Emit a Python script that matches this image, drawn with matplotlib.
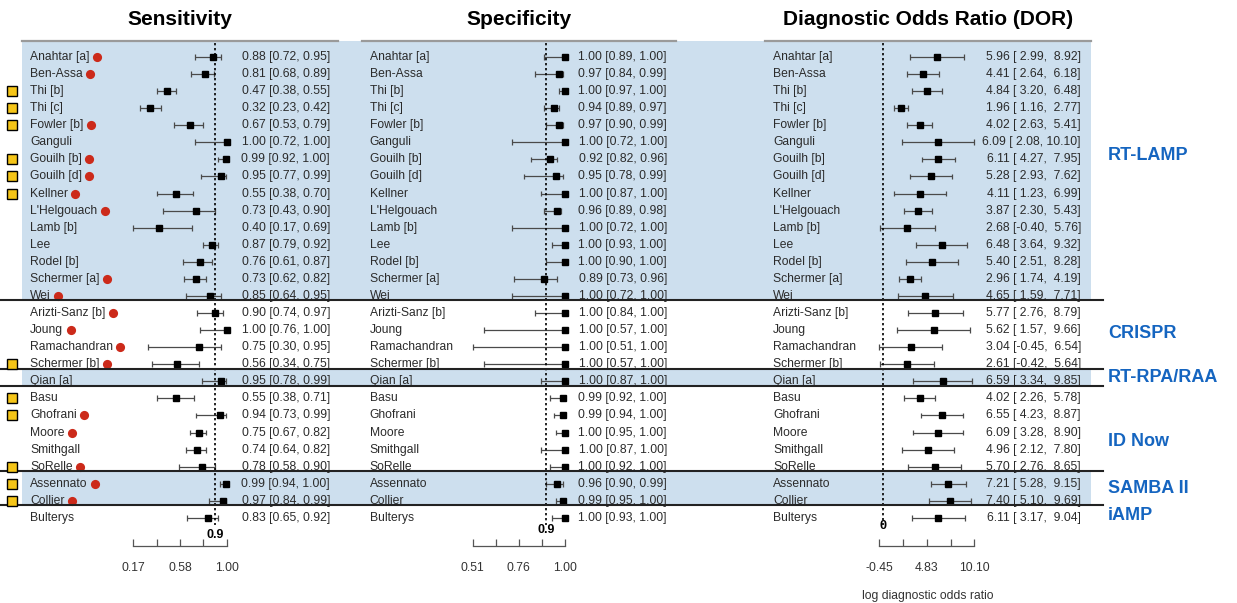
import numpy as np
import matplotlib
matplotlib.use('Agg')
import matplotlib.pyplot as plt
import matplotlib.transforms as mtransforms

plt.rcParams['font.family'] = ['Liberation Sans', 'DejaVu Sans']

# studies, top to bottom
studies = ["Anahtar [a]", "Ben-Assa", "Thi [b]", "Thi [c]", "Fowler [b]", "Ganguli",
           "Gouilh [b]", "Gouilh [d]", "Kellner", "L'Helgouach", "Lamb [b]", "Lee",
           "Rodel [b]", "Schermer [a]", "Wei",
           "Arizti-Sanz [b]", "Joung", "Ramachandran", "Schermer [b]",
           "Qian [a]",
           "Basu", "Ghofrani", "Moore", "Smithgall", "SoRelle",
           "Assennato", "Collier",
           "Bulterys"]

groups = ["RT-LAMP", "CRISPR", "RT-RPA/RAA", "ID Now", "SAMBA II", "iAMP"]
group_sizes = [15, 4, 1, 5, 2, 1]
group_label_rows = [5.75, 16.2, 18.8, 22.5, 25.25, 26.85]
shaded = [True, False, True, False, True, False]

yellow_flag = [0, 0, 1, 1, 1, 0, 1, 1, 1, 0, 0, 0, 0, 0, 0,
               0, 0, 0, 1,
               0,
               1, 1, 0, 0, 1,
               1, 1,
               0]
red_flag = [1, 1, 0, 0, 1, 0, 1, 1, 1, 1, 0, 0, 0, 1, 1,
            1, 1, 1, 1,
            0,
            0, 1, 1, 0, 1,
            1, 1,
            0]

sens = [0.88, 0.81, 0.47, 0.32, 0.67, 1.00, 0.99, 0.95, 0.55, 0.73, 0.40, 0.87, 0.76, 0.73, 0.85,
        0.90, 1.00, 0.75, 0.56, 0.95, 0.55, 0.94, 0.75, 0.74, 0.78, 0.99, 0.97, 0.83]
sens_lo = [0.72, 0.68, 0.38, 0.23, 0.53, 0.72, 0.92, 0.77, 0.38, 0.43, 0.17, 0.79, 0.61, 0.62, 0.64,
           0.74, 0.76, 0.30, 0.34, 0.78, 0.38, 0.73, 0.67, 0.64, 0.58, 0.94, 0.84, 0.65]
sens_hi = [0.95, 0.89, 0.55, 0.42, 0.79, 1.00, 1.00, 0.99, 0.70, 0.90, 0.69, 0.92, 0.87, 0.82, 0.95,
           0.97, 1.00, 0.95, 0.75, 0.99, 0.71, 0.99, 0.82, 0.82, 0.90, 1.00, 0.99, 0.92]

spec = [1.00, 0.97, 1.00, 0.94, 0.97, 1.00, 0.92, 0.95, 1.00, 0.96, 1.00, 1.00, 1.00, 0.89, 1.00,
        1.00, 1.00, 1.00, 1.00, 1.00, 0.99, 0.99, 1.00, 1.00, 1.00, 0.96, 0.99, 1.00]
spec_lo = [0.89, 0.84, 0.97, 0.89, 0.90, 0.72, 0.82, 0.78, 0.87, 0.89, 0.72, 0.93, 0.90, 0.73, 0.72,
           0.84, 0.57, 0.51, 0.57, 0.87, 0.92, 0.94, 0.95, 0.87, 0.92, 0.90, 0.95, 0.93]
spec_hi = [1.00, 0.99, 1.00, 0.97, 0.99, 1.00, 0.96, 0.99, 1.00, 0.98, 1.00, 1.00, 1.00, 0.96, 1.00,
           1.00, 1.00, 1.00, 1.00, 1.00, 1.00, 1.00, 1.00, 1.00, 1.00, 0.99, 1.00, 1.00]

dor = [5.96, 4.41, 4.84, 1.96, 4.02, 6.09, 6.11, 5.28, 4.11, 3.87, 2.68, 6.48, 5.40, 2.96, 4.65,
       5.77, 5.62, 3.04, 2.61, 6.59, 4.02, 6.55, 6.09, 4.96, 5.70, 7.21, 7.40, 6.11]
dor_lo = [2.99, 2.64, 3.20, 1.16, 2.63, 2.08, 4.27, 2.93, 1.23, 2.30, -0.40, 3.64, 2.51, 1.74, 1.59,
          2.76, 1.57, -0.45, -0.42, 3.34, 2.26, 4.23, 3.28, 2.12, 2.76, 5.28, 5.10, 3.17]
dor_hi = [8.92, 6.18, 6.48, 2.77, 5.41, 10.10, 7.95, 7.62, 6.99, 5.43, 5.76, 9.32, 8.28, 4.19, 7.71,
          8.79, 9.66, 6.54, 5.64, 9.85, 5.78, 8.87, 8.90, 7.80, 8.65, 9.15, 9.69, 9.04]

# figure layout (pixels at dpi 100)
W, H = 1237, 603
top_px, bot_px = 41, 530
row0_px, row_step = 57.0, 17.07
ylim = ((bot_px - row0_px) / row_step, (top_px - row0_px) / row_step)

fig = plt.figure(figsize=(W / 100, H / 100), dpi=100)
ax_b = (H - bot_px) / H
ax_h = (bot_px - top_px) / H

BLUE = '#cddfee'
TXT = '#2b2b2b'
FS = 8.7

rows = np.arange(len(studies))
bounds = np.cumsum(group_sizes)
starts = np.concatenate([[0], bounds[:-1]])

# background with shaded groups
axbg = fig.add_axes([0, ax_b, 1, ax_h])
axbg.set_zorder(-1)
axbg.set_xlim(0, W)
axbg.set_ylim(*ylim)
axbg.axis('off')
for s, e, sh in zip(starts, bounds, shaded):
    if sh:
        y0 = ylim[1] if s == 0 else s - 0.75
        axbg.axhspan(y0, e - 0.75, xmin=22 / W, xmax=1091 / W, color=BLUE, lw=0)


def forest(left_px, right_px, ax_lo, ax_hi, lo_px, hi_px, est, lo, hi, ref, ref_lab,
           ref_lab_row, tick_labels, ci_fmt, ci_x, title):
    ax = fig.add_axes([left_px / W, ax_b, (right_px - left_px) / W, ax_h])
    ax.patch.set_alpha(0)
    scale = (ax_hi - ax_lo) / (hi_px - lo_px)
    ax.set_xlim(ax_lo - (lo_px - left_px) * scale, ax_hi + (right_px - hi_px) * scale)
    ax.set_ylim(*ylim)

    ax.hlines(rows, lo, hi, color='#4a4a4a', lw=0.9)
    ax.vlines(lo, rows - 0.17, rows + 0.17, color='#4a4a4a', lw=0.9)
    ax.vlines(hi, rows - 0.17, rows + 0.17, color='#4a4a4a', lw=0.9)
    ax.plot(est, rows, 's', color='black', ms=4.1, zorder=3)

    ax.vlines(ref, ylim[1] + 0.12, 27.4, color='black', lw=1.2, linestyles=(0, (1.4, 1.6)))
    ax.text(ref, ref_lab_row, ref_lab, ha='center', va='center', fontsize=9, fontweight='bold')

    tr = mtransforms.blended_transform_factory(ax.transAxes, ax.transData)
    labels = []
    for r, name in zip(rows, studies):
        labels.append(ax.text(0.025, r, name, transform=tr, ha='left', va='center',
                              fontsize=FS, color=TXT))
        ax.text(ci_x, r, ci_fmt(est[r], lo[r], hi[r]), transform=tr, ha='right', va='center',
                fontsize=FS, color=TXT)

    for sp in ['left', 'right']:
        ax.spines[sp].set_visible(False)
    ax.spines['top'].set_color('#9a9a9a')
    ax.spines['top'].set_linewidth(1.6)
    ax.spines['bottom'].set_position(('outward', 11.8))
    ax.spines['bottom'].set_bounds(ax_lo, ax_hi)
    ax.spines['bottom'].set_color('#555555')
    ax.spines['bottom'].set_linewidth(0.9)
    ax.set_yticks([])
    ax.set_xticks(np.linspace(ax_lo, ax_hi, 5))
    ax.set_xticklabels(tick_labels)
    ax.tick_params(axis='x', direction='in', length=5, width=0.9, color='#555555',
                   pad=11.5, labelsize=FS, labelcolor='#333333')
    ax.set_title(title, fontsize=15, fontweight='bold', pad=11.5)
    return ax, labels


fmt_p = lambda e, l, h: f"{e:.2f} [{l:.2f}, {h:.2f}]"
fmt_d = lambda e, l, h: f"{e:.2f} [{l:5.2f}, {h:5.2f}]"

ax1, lab1 = forest(22, 338, 0.17, 1.00, 133.3, 226.7, sens, sens_lo, sens_hi, 0.9, '0.9', 28.0,
                   ['0.17', '', '0.58', '', '1.00'], fmt_p, 0.975, 'Sensitivity')
ax2, lab2 = forest(362, 676, 0.51, 1.00, 472.7, 565.0, spec, spec_lo, spec_hi, 0.9, '0.9', 27.7,
                   ['0.51', '', '0.76', '', '1.00'], fmt_p, 0.971, 'Specificity')
ax3, lab3 = forest(765, 1091, -0.45, 10.10, 879.3, 974.3, dor, dor_lo, dor_hi, 0, '0', 27.5,
                   ['-0.45', '', '4.83', '', '10.10'], fmt_d, 0.969, 'Diagnostic Odds Ratio (DOR)')
ax3.set_xlabel('log diagnostic odds ratio', fontsize=FS, color='#333333', labelpad=11)

# red dots after study names in the sensitivity panel
renderer = fig.canvas.get_renderer()
for r, t in zip(rows, lab1):
    if red_flag[r]:
        bb = t.get_window_extent(renderer)
        xd = ax1.transData.inverted().transform((bb.x1 + 7.5, 0))[0]
        ax1.plot(xd, r, 'o', color='#cc2a1a', ms=6.6, mec='none', zorder=4)

# overlay: separators, yellow flags, group names
axfg = fig.add_axes([0, ax_b, 1, ax_h])
axfg.set_zorder(5)
axfg.patch.set_alpha(0)
axfg.set_xlim(0, W)
axfg.set_ylim(*ylim)
axfg.axis('off')
for e in bounds[:-1]:
    axfg.axhline(e - 0.75, xmin=0, xmax=1103 / W, color='#222222', lw=1.5)

trf = mtransforms.blended_transform_factory(axfg.transAxes, axfg.transData)
yr = [r for r in rows if yellow_flag[r]]
axfg.plot([12 / W] * len(yr), yr, 's', transform=trf, color='#f5c518', mec='black',
          mew=1.0, ms=7.6)
for g, gr in zip(groups, group_label_rows):
    axfg.text(1108 / W, gr, g, transform=trf, ha='left', va='center', fontsize=13,
              fontweight='bold', color='#1565c0')

fig.savefig('out.png', dpi=100)
